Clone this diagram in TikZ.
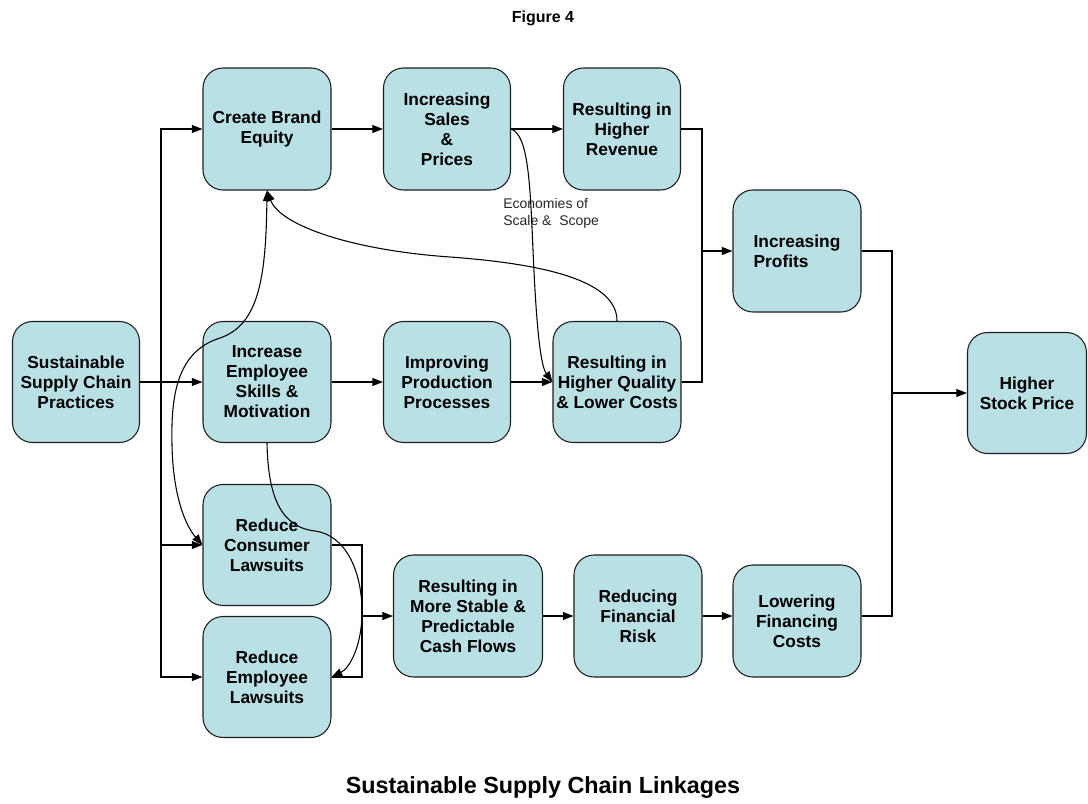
\documentclass[tikz,border=0pt]{standalone}
\usepackage{fontspec}
\setmainfont{Liberation Sans}
\usetikzlibrary{arrows.meta}
\definecolor{boxfill}{RGB}{185,224,228}
\definecolor{boxline}{RGB}{30,30,30}
\begin{document}
\begin{tikzpicture}[x=0.75pt,y=-0.75pt,
  stbox/.style={draw=boxline, fill=boxfill, rounded corners=15pt, line width=0.8pt,
    align=center, inner sep=0pt, font=\bfseries\fontsize{13}{15}\selectfont},
  sz/.style 2 args={minimum width=#1*0.75pt, minimum height=#2*0.75pt},
  conn/.style={line width=0.8pt, draw=black},
  arr/.style={conn, -{Triangle[length=8pt,width=6pt]}},
  darr/.style={conn, {Triangle[length=8pt,width=6pt]}-{Triangle[length=8pt,width=6pt]}}]
\useasboundingbox (0,0) rectangle (1088,803);
% title and caption
\node[font=\bfseries\fontsize{12}{14}\selectfont] (title) at (543,18) {Figure 4};
\node[font=\bfseries\fontsize{17.5}{20}\selectfont] (caption) at (543,788) {Sustainable Supply Chain Linkages};
% boxes
\node[stbox, sz={127}{121}] (ssc) at (76,382) {Sustainable\\Supply Chain\\Practices};
\node[stbox, sz={128}{122}] (cbe) at (267,129) {Create Brand\\Equity};
\node[stbox, sz={127}{122}] (sal) at (447,129) {Increasing\\Sales\\\&\\Prices};
\node[stbox, sz={117}{122}] (rev) at (622,129) {Resulting in\\Higher\\Revenue};
\node[stbox, sz={128}{121}] (emp) at (267,382) {Increase\\Employee\\Skills \&\\Motivation};
\node[stbox, sz={127}{121}] (prod) at (447,382) {Improving\\Production\\Processes};
\node[stbox, sz={128}{121}] (hq) at (617,382) {Resulting in\\Higher Quality\\\& Lower Costs};
\node[stbox, sz={128}{122}, align=left] (prof) at (797,251) {Increasing\\Profits};
\node[stbox, sz={119}{121}] (stock) at (1027,393) {Higher\\Stock Price};
\node[stbox, sz={128}{121}] (rcl) at (267,545) {Reduce\\Consumer\\Lawsuits};
\node[stbox, sz={128}{121}] (rel) at (267,677) {Reduce\\Employee\\Lawsuits};
\node[stbox, sz={149}{122}] (cash) at (468,616) {Resulting in\\More Stable \&\\Predictable\\Cash Flows};
\node[stbox, sz={128}{122}] (risk) at (638,616) {Reducing\\Financial\\Risk};
\node[stbox, sz={128}{112}] (low) at (797,621) {Lowering\\Financing\\Costs};
% label
\node[anchor=north west, align=left, inner sep=0pt, text=black!85,
  font=\fontsize{10.5}{12.75}\selectfont] (eco) at (503,198) {Economies of\\Scale \& \ Scope};
% junction points
\coordinate (jL) at (161,382);
\coordinate (jR1) at (702,251);
\coordinate (jR2) at (892,393);
\coordinate (jB) at (362,616);
% left spine
\draw[conn] (ssc.east) -- (jL);
\draw[arr] (jL) |- (cbe.west);
\draw[arr] (jL) -- (emp.west);
\draw[arr] (jL) |- (rcl.west);
\draw[arr] (jL) |- (rel.west);
% top row
\draw[arr] (cbe.east) -- (sal.west);
\draw[arr] (sal.east) -- (rev.west);
\draw[arr] (emp.east) -- (prod.west);
\draw[arr] (prod.east) -- (hq.west);
% to profits
\draw[conn] (rev.east) -| (jR1);
\draw[conn] (hq.east) -| (jR1);
\draw[arr] (jR1) -- (prof.west);
% to stock price
\draw[conn] (prof.east) -| (jR2);
\draw[conn] (low.east |- risk.east) -| (jR2);
\draw[arr] (jR2) -- (stock.west);
% bottom row
\draw[conn] (rcl.east) -| (jB);
\draw[conn] (rel.east) -| (jB);
\draw[arr] (jB) -- (cash.west);
\draw[arr] (cash.east) -- (risk.west);
\draw[arr] (risk.east) -- (low.west |- risk.east);
% curves
\draw[arr] (sal.east) .. controls (528,135) and (530,180) .. (533,250)
  .. controls (536,320) and (540,365) .. (hq.west);
\draw[arr] (hq.north) .. controls (617,285) and (560,265) .. (450,257)
  .. controls (350,250) and (280,225) .. (cbe.south);
\draw[darr] (cbe.south) .. controls (266,280) and (258,325) .. (220,338)
  .. controls (175,352) and (171,400) .. (172,445)
  .. controls (173,495) and (185,525) .. (rcl.west);
\draw[arr] (emp.south) .. controls (268,495) and (280,527) .. (315,531)
  .. controls (345,535) and (362,570) .. (362,612)
  .. controls (362,645) and (350,668) .. (rel.east);
\end{tikzpicture}
\end{document}
